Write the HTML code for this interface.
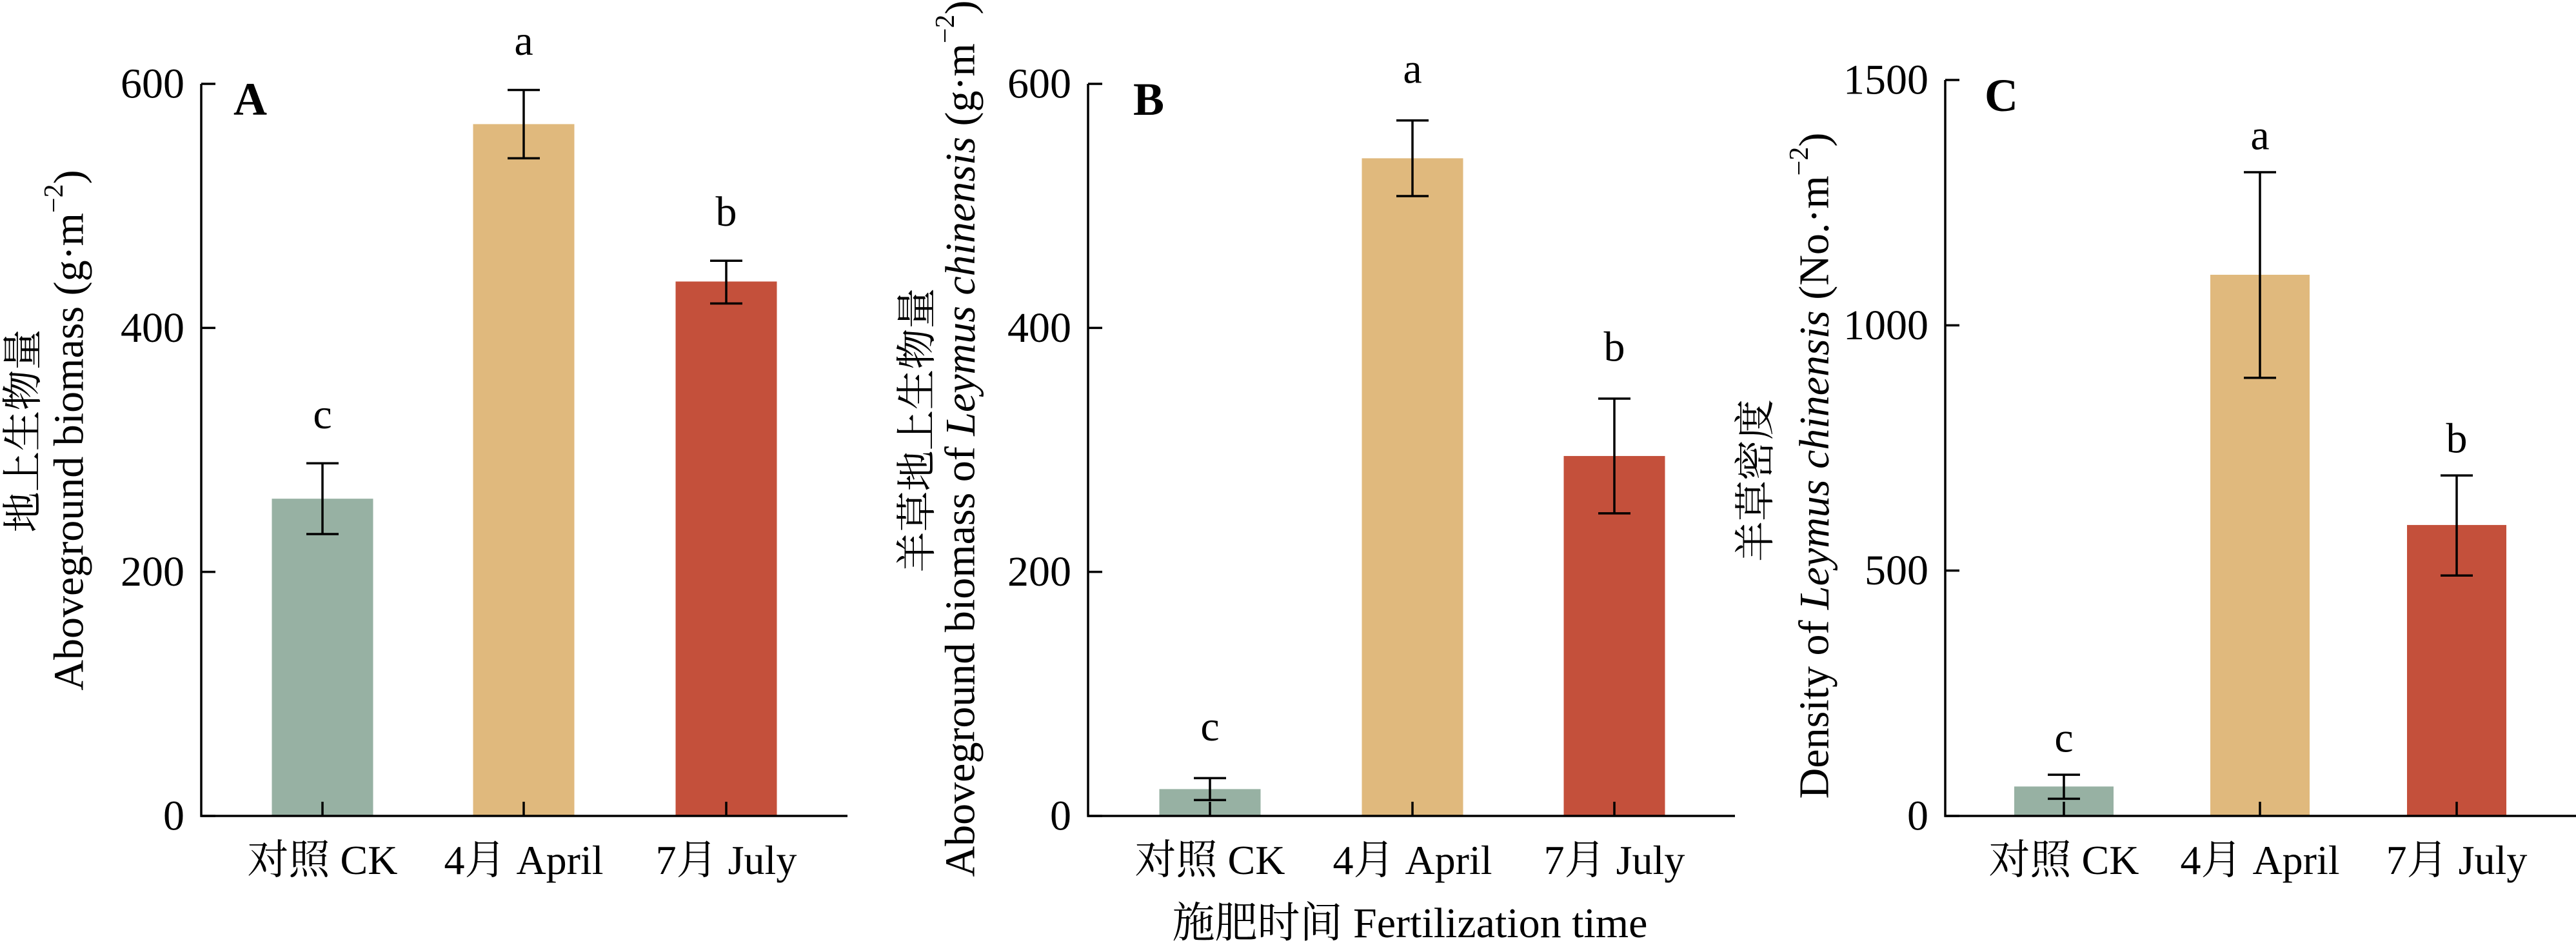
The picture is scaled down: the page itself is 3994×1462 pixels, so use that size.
<!DOCTYPE html>
<html><head><meta charset="utf-8"><style>
html,body{margin:0;padding:0;background:#fff;}
svg{display:block;font-family:"Liberation Serif","Noto Serif CJK SC","Noto Sans CJK SC",serif;}
</style></head><body>
<svg id="fig" width="3994" height="1462" viewBox="0 0 3994 1462" xmlns="http://www.w3.org/2000/svg">
<g>
<text x="36" y="668" transform="rotate(-90 36 668)" text-anchor="middle" dominant-baseline="central" font-size="63">地上生物量</text>
<text x="107" y="667" transform="rotate(-90 107 667)" text-anchor="middle" dominant-baseline="central" font-size="66">Aboveground biomass (g·m<tspan baseline-shift="super" font-size="42">−2</tspan>)</text>
</g>
<g>
<text x="1422" y="667" transform="rotate(-90 1422 667)" text-anchor="middle" dominant-baseline="central" font-size="63">羊草地上生物量</text>
<text x="1489" y="680" transform="rotate(-90 1489 680)" text-anchor="middle" dominant-baseline="central" font-size="66">Aboveground biomass of <tspan font-style="italic">Leymus chinensis</tspan> (g·m<tspan baseline-shift="super" font-size="42">−2</tspan>)</text>
</g>
<g>
<text x="2722" y="745" transform="rotate(-90 2722 745)" text-anchor="middle" dominant-baseline="central" font-size="63">羊草密度</text>
<text x="2813" y="722" transform="rotate(-90 2813 722)" text-anchor="middle" dominant-baseline="central" font-size="66">Density of <tspan font-style="italic">Leymus chinensis</tspan> (No.·m<tspan baseline-shift="super" font-size="42">−2</tspan>)</text>
</g>
<text x="2186" y="1453" text-anchor="middle" font-size="66">施肥时间 Fertilization time</text>
</svg>
<script>
const categories = ["对照 CK", "4月  April", "7月  July"];
const colors = ["#97b1a3", "#e0b97d", "#c4503b"];
const aValues = [260, 567, 438];
const aErrHigh = [289, 595, 455];
const aErrLow = [231, 539, 420];
const aLetters = ["c", "a", "b"];
const aTicks = [0, 200, 400, 600];
const bValues = [22, 539, 295];
const bErrHigh = [31, 570, 342];
const bErrLow = [13, 508, 248];
const bLetters = ["c", "a", "b"];
const bTicks = [0, 200, 400, 600];
const cValues = [60, 1103, 593];
const cErrHigh = [84, 1312, 694];
const cErrLow = [35, 893, 490];
const cLetters = ["c", "a", "b"];
const cTicks = [0, 500, 1000, 1500];

const NS = "http://www.w3.org/2000/svg";
const svg = document.getElementById("fig");
function mk(tag, attrs, parent) {
  const e = document.createElementNS(NS, tag);
  for (const k in attrs) e.setAttribute(k, attrs[k]);
  parent.appendChild(e);
  return e;
}
function panel(p) {
  const g = mk("g", {}, svg);
  
  
  const yMax = p.ticks[p.ticks.length - 1];
  const y = v => p.y0 - (v / yMax) * (p.y0 - p.yTop);
  const sw = 3.5;
  // bars
  p.values.forEach((v, i) => {
    const cx = p.centers[i];
    const r = mk("rect", {x: cx - p.bw / 2, y: y(v), width: p.bw, height: p.y0 - y(v), fill: colors[i]}, g);
    
    
    const eg = mk("g", {stroke: "#000", "stroke-width": sw}, g);
    
    
    mk("line", {x1: cx, x2: cx, y1: y(p.hi[i]), y2: y(p.lo[i])}, eg);
    mk("line", {x1: cx - 25, x2: cx + 25, y1: y(p.hi[i]), y2: y(p.hi[i])}, eg);
    mk("line", {x1: cx - 25, x2: cx + 25, y1: y(p.lo[i]), y2: y(p.lo[i])}, eg);
    const lt = mk("text", {x: cx, y: y(p.hi[i]) - p.letOff, "text-anchor": "middle", "dominant-baseline": "central", "font-size": 66}, g);
    lt.textContent = p.letters[i];
    
    
    const tk = mk("line", {x1: cx, x2: cx, y1: p.y0, y2: p.y0 - 22, stroke: "#000", "stroke-width": sw}, g);
    
    
    const tl = mk("text", {x: cx, y: p.y0 + 90, "text-anchor": "middle", "font-size": 64}, g);
    tl.textContent = categories[i];
    
    
  });
  // axes
  const ax = mk("path", {d: `M${p.ax} ${p.yTop} L${p.ax} ${p.y0} L${p.xEnd} ${p.y0}`, fill: "none", stroke: "#000", "stroke-width": sw}, g);
  
  
  p.ticks.forEach(t => {
    const tk = mk("line", {x1: p.ax, x2: p.ax + 22, y1: y(t), y2: y(t), stroke: "#000", "stroke-width": sw}, g);
    
    
    const tl = mk("text", {x: p.ax - 26, y: y(t), "text-anchor": "end", "dominant-baseline": "central", "font-size": 66}, g);
    tl.textContent = t;
    
    
  });
  const lab = mk("text", {x: p.labX, y: p.yTop + 24, "dominant-baseline": "central", "font-size": 72, "font-weight": "bold"}, g);
  lab.textContent = p.label;
  
  
}
panel({id: "a", label: "A", values: aValues, hi: aErrHigh, lo: aErrLow, letters: aLetters, ticks: aTicks,
  ax: 312, xEnd: 1314, yTop: 130, y0: 1265, centers: [500, 812, 1126], bw: 157, letOff: 76, labX: 362});
panel({id: "b", label: "B", values: bValues, hi: bErrHigh, lo: bErrLow, letters: bLetters, ticks: bTicks,
  ax: 1687, xEnd: 2690, yTop: 130, y0: 1265, centers: [1876, 2190, 2503], bw: 157, letOff: 80, labX: 1757});
panel({id: "c", label: "C", values: cValues, hi: cErrHigh, lo: cErrLow, letters: cLetters, ticks: cTicks,
  ax: 3016, xEnd: 3994, yTop: 124, y0: 1265, centers: [3200, 3504, 3809], bw: 154, letOff: 57, labX: 3077});
</script>
</body></html>
